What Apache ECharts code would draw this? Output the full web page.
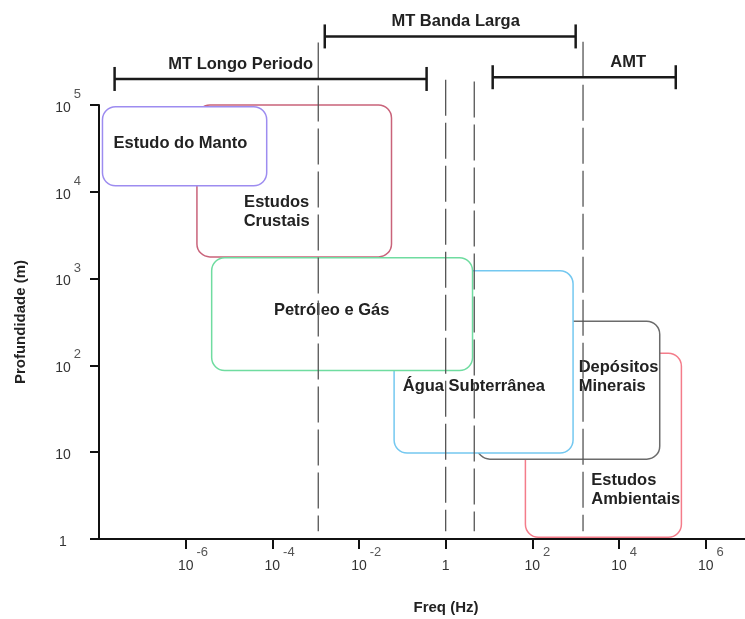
<!DOCTYPE html>
<html><head><meta charset="utf-8">
<script src="https://cdn.jsdelivr.net/npm/echarts@6/dist/echarts.min.js"></script>
<style>html,body{margin:0;padding:0;background:#fff}#c{width:745px;height:619px}</style>
</head><body><div id="c"></div><script>
// x values = log10(frequency, Hz); y values = log10(depth, m)
const areaNames = ['Estudos\nAmbientais', 'Depósitos\nMinerais', 'Água Subterrânea', 'Estudos\nCrustais', 'Petróleo e Gás', 'Estudo do Manto'];
const areaFreqFrom = [1.84, 0.72, -1.19, -5.74, -5.40, -7.92];
const areaFreqTo = [5.44, 4.94, 2.94, -1.25, 0.62, -4.13];
const areaDepthFrom = [0.02, 0.92, 0.99, 3.25, 1.94, 4.07];
const areaDepthTo = [2.14, 2.51, 3.09, 5.0, 3.24, 4.98];
const areaLabelFreq = [3.36, 3.07, 0.65, -3.90, -2.63, -6.12];
const areaLabelDepth = [0.56, 1.87, 1.76, 3.77, 2.63, 4.56];

const bandNames = ['MT Longo Periodo', 'MT Banda Larga', 'AMT'];
const bandFreqFrom = [-7.64, -2.79, 1.085];
const bandFreqTo = [-0.44, 3.0, 5.31];
const bandLevel = [5.30, 5.79, 5.32];
const bandLabelFreq = [-4.73, 0.23, 4.21];

const dividerFreq = [-2.94, 0, 0.66, 3.17];
const dividerTop = [5.72, 5.29, 5.27, 5.73];
const dividerBottom = [0.09, 0.09, 0.09, 0.09];

const freqTickExp = [-6, -4, -2, 0, 2, 4, 6];
const depthTickExp = [0, 1, 2, 3, 4, 5];

// styles
const areaColors = ['#f47c8a', '#6b6b6b', '#74c8f0', '#c9637a', '#6fdca0', '#9d8cf0'];
const areaAlign = ['left', 'left', 'center', 'center', 'center', 'center'];
const FONT = "'Liberation Sans', Arial, sans-serif";

function tickLabel(e, allowed) {
  if (allowed.indexOf(e) < 0) return '';
  if (e === 0) return '{base|1}';
  if (e === 1) return '{base|10}';
  return '{pad|' + e + '}{base|10}{sup|' + e + '}';
}
const richTicks = {
  base: { fontSize: 14, color: '#333', lineHeight: 40, fontFamily: FONT },
  sup: { fontSize: 13, color: '#555', verticalAlign: 'top', lineHeight: 14, fontFamily: FONT, padding: [0, 0, 0, 3] },
  pad: { fontSize: 13, color: 'rgba(0,0,0,0)', verticalAlign: 'top', lineHeight: 14, fontFamily: FONT, padding: [0, 3, 0, 0] }
};

const areaData = areaNames.map((n, i) => [areaFreqFrom[i], areaFreqTo[i], areaDepthFrom[i], areaDepthTo[i], i]);
const labelData = areaNames.map((n, i) => [areaLabelFreq[i], areaLabelDepth[i], i]);
const bandData = bandNames.map((n, i) => [bandFreqFrom[i], bandFreqTo[i], bandLevel[i], bandLabelFreq[i], i]);
const dividerData = dividerFreq.map((f, i) => [f, dividerTop[i], dividerBottom[i]]);

const chart = echarts.init(document.getElementById('c'));
chart.setOption({
  animation: false,
  backgroundColor: '#fff',
  grid: { left: 99, width: 650, top: 105, height: 434, outerBoundsMode: 'none', containLabel: false },
  xAxis: {
    type: 'value', min: -8, max: 7, interval: 2,
    splitLine: { show: false },
    axisLine: { onZero: false, lineStyle: { color: '#111', width: 2 } },
    axisTick: { length: 10, customValues: freqTickExp, lineStyle: { color: '#111', width: 2 } },
    axisLabel: { margin: 7, customValues: freqTickExp, formatter: v => tickLabel(v, freqTickExp), rich: richTicks },
    name: 'Freq (Hz)', nameLocation: 'middle', nameGap: 61,
    nameTextStyle: { fontSize: 15, fontWeight: 'bold', color: '#222', fontFamily: FONT, padding: [0, 0, 0, 44] }
  },
  yAxis: {
    type: 'value', min: 0, max: 5, interval: 1,
    splitLine: { show: false },
    axisLine: { onZero: false, lineStyle: { color: '#111', width: 2 } },
    axisTick: { length: 9, customValues: depthTickExp, lineStyle: { color: '#111', width: 2 } },
    axisLabel: { margin: 36, align: 'center', padding: [6, 0, 0, 0], customValues: depthTickExp, formatter: v => tickLabel(v, depthTickExp), rich: richTicks },
    name: 'Profundidade (m)', nameLocation: 'middle', nameGap: 71,
    nameTextStyle: { fontSize: 15, fontWeight: 'bold', color: '#222', fontFamily: FONT }
  },
  series: [
    {
      type: 'custom', clip: false, z: 2,
      data: areaData,
      encode: { x: [0, 1], y: [2, 3] },
      renderItem: (params, api) => {
        const p1 = api.coord([api.value(0), api.value(3)]);
        const p2 = api.coord([api.value(1), api.value(2)]);
        const i = api.value(4);
        return {
          type: 'rect', z2: i,
          shape: { x: p1[0], y: p1[1], width: p2[0] - p1[0], height: p2[1] - p1[1], r: 13 },
          style: { fill: '#fff', stroke: areaColors[i], lineWidth: 1.5 }
        };
      }
    },
    {
      type: 'custom', clip: false, z: 3,
      data: labelData,
      encode: { x: 0, y: 1 },
      renderItem: (params, api) => {
        const p = api.coord([api.value(0), api.value(1)]);
        const i = api.value(2);
        return {
          type: 'text', x: p[0], y: p[1],
          style: {
            text: areaNames[i], fontSize: 16.5, fontWeight: 'bold', fontFamily: FONT,
            fill: '#222', align: areaAlign[i], verticalAlign: 'middle', lineHeight: 19
          }
        };
      }
    },
    {
      type: 'custom', clip: false, z: 4,
      data: dividerData,
      encode: { x: 0, y: [1, 2] },
      renderItem: (params, api) => {
        const a = api.coord([api.value(0), api.value(1)]);
        const b = api.coord([api.value(0), api.value(2)]);
        return {
          type: 'line',
          shape: { x1: a[0], y1: a[1], x2: b[0], y2: b[1] },
          style: { stroke: '#555', lineWidth: 1.3, lineDash: [36, 7] }
        };
      }
    },
    {
      type: 'custom', clip: false, z: 5,
      data: bandData,
      encode: { x: [0, 1, 3], y: 2 },
      renderItem: (params, api) => {
        const a = api.coord([api.value(0), api.value(2)]);
        const b = api.coord([api.value(1), api.value(2)]);
        const t = api.coord([api.value(3), api.value(2)]);
        const i = api.value(4);
        const st = { stroke: '#1a1a1a', lineWidth: 2.5 };
        return {
          type: 'group',
          children: [
            { type: 'line', shape: { x1: a[0], y1: a[1], x2: b[0], y2: b[1] }, style: st },
            { type: 'line', shape: { x1: a[0], y1: a[1] - 12, x2: a[0], y2: a[1] + 12 }, style: st },
            { type: 'line', shape: { x1: b[0], y1: b[1] - 12, x2: b[0], y2: b[1] + 12 }, style: st },
            { type: 'text', x: t[0], y: t[1] - 15, style: { text: bandNames[i], fontSize: 16.5, fontWeight: 'bold', fontFamily: FONT, fill: '#222', align: 'center', verticalAlign: 'middle' } }
          ]
        };
      }
    }
  ]
});
</script></body></html>
